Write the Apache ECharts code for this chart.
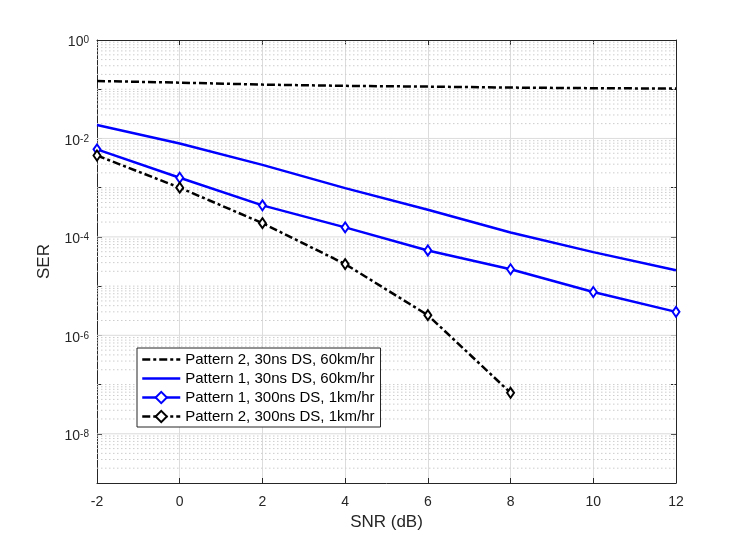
<!DOCTYPE html>
<html>
<head>
<meta charset="utf-8">
<script src="https://cdn.jsdelivr.net/npm/echarts@6/dist/echarts.min.js"></script>
<style>
  html, body { margin: 0; padding: 0; background: #fff; }
  #chart { width: 747px; height: 542px; }
</style>
</head>
<body>
<div id="chart"></div>
<script>
// SNR points (dB)
var snr = [-2, 0, 2, 4, 6, 8, 10, 12];
var snrShort = [-2, 0, 2, 4, 6, 8];

// SER
var p2_30ns_60kmh = [0.147, 0.136, 0.124, 0.117, 0.113, 0.108, 0.105, 0.103];
var p1_30ns_60kmh = [0.0188, 0.0079, 0.0029, 0.00098, 0.000355, 0.000123, 0.000049, 0.000021];
var p1_300ns_1kmh = [0.0060, 0.00159, 0.000437, 0.000156, 0.000053, 0.000022, 0.0000076, 0.0000030];
var p2_300ns_1kmh = [0.0045, 0.0010, 0.00019, 0.000028, 0.00000257, 0.000000068];

var names = [
    'Pattern 2, 30ns DS, 60km/hr',
    'Pattern 1, 30ns DS, 60km/hr',
    'Pattern 1, 300ns DS, 1km/hr',
    'Pattern 2, 300ns DS, 1km/hr'
];

var xRange = [-2, 12];
var decades = [-9, -8, -7, -6, -5, -4, -3, -2, -1];

var font = '"Liberation Sans", Arial, Helvetica, sans-serif';
var ink = '#262626';
var dashDot = [8, 3, 3, 3];

function pairs(xs, ys) {
    var out = [];
    for (var i = 0; i < ys.length; i++) out.push([xs[i], ys[i]]);
    return out;
}

// horizontal grid, one flat line series each: solid at labelled decades, dotted elsewhere
var gridSeries = [];
for (var d = 0; d < decades.length; d++) {
    var e = decades[d];
    for (var k = 1; k <= 9; k++) {
        if (k == 1 && e == -9) continue;
        var v = k * Math.pow(10, e);
        var major = (k == 1 && e % 2 == 0);
        gridSeries.push({
            type: 'line',
            silent: true,
            z: 1,
            symbol: 'none',
            data: [[xRange[0], v], [xRange[1], v]],
            lineStyle: major
                ? { color: '#dcdcdc', width: 1, type: 'solid' }
                : { color: '#cdcdcd', width: 1, type: [1.5, 2.5] }
        });
    }
}

var echart = echarts.init(document.getElementById('chart'));
var option = {
    animation: false,
    backgroundColor: '#fff',
    grid: { left: 97, right: 71, top: 40, bottom: 59 },
    legend: {
        data: [
            { name: names[0], itemStyle: { opacity: 0 } },
            { name: names[1], itemStyle: { opacity: 0 } },
            { name: names[2] },
            { name: names[3] }
        ],
        orient: 'vertical',
        left: 137,
        top: 348,
        itemWidth: 38,
        itemHeight: 14,
        itemGap: 4,
        padding: [4, 6, 3, 4],
        backgroundColor: '#fff',
        borderColor: ink,
        borderWidth: 1,
        borderRadius: 0,
        lineStyle: { width: 2.5 },
        textStyle: { fontFamily: font, fontSize: 15, color: '#000', lineHeight: 15 }
    },
    xAxis: [{
        type: 'value',
        min: xRange[0], max: xRange[1], interval: 2,
        name: 'SNR (dB)',
        nameLocation: 'middle',
        nameGap: 30,
        nameTextStyle: { fontFamily: font, fontSize: 17, color: ink },
        axisLine: { onZero: false, lineStyle: { color: ink, width: 1 } },
        axisTick: { inside: true, length: 5, lineStyle: { color: ink } },
        axisLabel: { margin: 12, fontFamily: font, fontSize: 14, color: ink },
        splitLine: { show: true, lineStyle: { color: '#dcdcdc', width: 1 } }
    }, {
        type: 'value',
        position: 'top',
        min: xRange[0], max: xRange[1], interval: 2,
        axisLine: { onZero: false, lineStyle: { color: ink, width: 1 } },
        axisTick: { inside: true, length: 5, lineStyle: { color: ink } },
        axisLabel: { show: false },
        splitLine: { show: false }
    }],
    yAxis: [{
        type: 'log',
        logBase: 10,
        min: 1e-9, max: 1,
        name: 'SER',
        nameLocation: 'middle',
        nameGap: 44,
        nameTextStyle: { fontFamily: font, fontSize: 17, color: ink },
        axisLine: { show: true, onZero: false, lineStyle: { color: ink, width: 1 } },
        axisTick: { inside: true, length: 5, lineStyle: { color: ink } },
        axisLabel: {
            margin: 8,
            padding: [5, 0, 0, 0],
            formatter: function (v) {
                var e = Math.round(Math.log10(v));
                if (e % 2 !== 0) return '';
                return '{b|10}{s|' + e + '}';
            },
            rich: {
                b: { fontFamily: font, fontSize: 14, color: ink, lineHeight: 14, verticalAlign: 'bottom' },
                s: { fontFamily: font, fontSize: 10, color: ink, lineHeight: 10, verticalAlign: 'top', padding: [0, 0, 8, 0] }
            }
        },
        splitLine: { show: false }
    }, {
        type: 'log',
        logBase: 10,
        min: 1e-9, max: 1,
        position: 'right',
        axisLine: { show: true, onZero: false, lineStyle: { color: ink, width: 1 } },
        axisTick: { inside: true, length: 5, lineStyle: { color: ink } },
        axisLabel: { show: false },
        splitLine: { show: false }
    }],
    series: gridSeries.concat([{
        name: names[0],
        type: 'line',
        z: 3,
        data: pairs(snr, p2_30ns_60kmh),
        symbol: 'none',
        lineStyle: { color: '#000', width: 2.5, type: dashDot },
        itemStyle: { color: '#000' }
    }, {
        name: names[1],
        type: 'line',
        z: 3,
        data: pairs(snr, p1_30ns_60kmh),
        symbol: 'none',
        lineStyle: { color: '#0000ff', width: 2.5, type: 'solid' },
        itemStyle: { color: '#0000ff' }
    }, {
        name: names[2],
        type: 'line',
        z: 3,
        data: pairs(snr, p1_300ns_1kmh),
        symbol: 'diamond',
        symbolSize: [7, 10],
        lineStyle: { color: '#0000ff', width: 2.5, type: 'solid' },
        itemStyle: { color: '#fff', borderColor: '#0000ff', borderWidth: 2 }
    }, {
        name: names[3],
        type: 'line',
        z: 3,
        data: pairs(snrShort, p2_300ns_1kmh),
        symbol: 'diamond',
        symbolSize: [7, 10],
        lineStyle: { color: '#000', width: 2.5, type: dashDot },
        itemStyle: { color: '#fff', borderColor: '#000', borderWidth: 2 }
    }])
};
echart.setOption(option);
</script>
</body>
</html>
